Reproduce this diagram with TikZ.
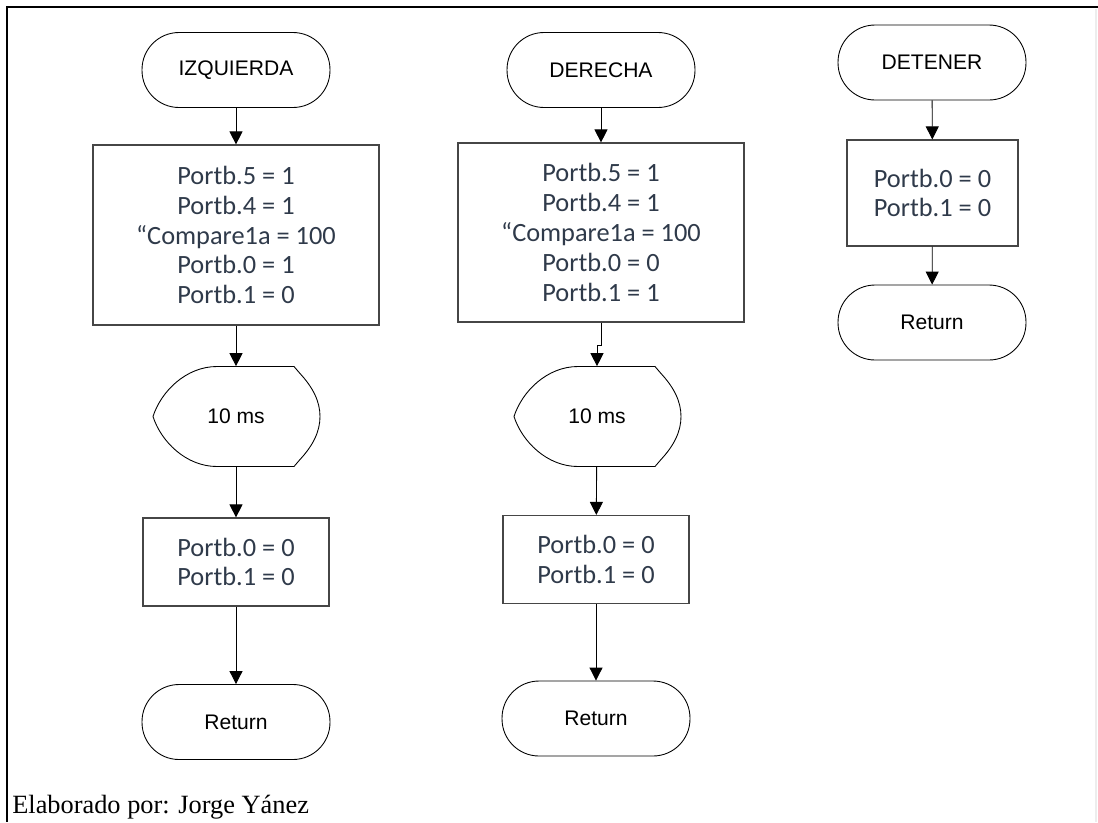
\documentclass[tikz,border=0pt]{standalone}
\usepackage{fontspec}
\setmainfont{Liberation Serif}
\newfontfamily\calibrifont{Carlito}
\newfontfamily\arialfont{Liberation Sans}
\usetikzlibrary{arrows.meta, positioning, calc}
\usepackage{xcolor}
\definecolor{boxtext}{RGB}{47,58,74}
\definecolor{boxline}{RGB}{70,70,70}

\begin{document}
\begin{tikzpicture}[x=0.02cm, y=-0.02cm,
  term/.style={draw, rounded corners=0.74cm, minimum width=3.76cm,
    minimum height=1.5cm, align=center, font=\arialfont\fontsize{12}{14}\selectfont,
    inner sep=0pt, line width=0.5pt},
  box/.style={draw=boxline, minimum width=3.72cm, minimum height=1.76cm, align=center,
    font=\calibrifont\fontsize{15}{17}\selectfont, text=boxtext, inner sep=0pt,
    line width=0.7pt},
  delay/.style={minimum width=3.3cm, minimum height=2cm, inner sep=0pt,
    font=\arialfont\fontsize{12}{14}\selectfont},
  arr/.style={-{Triangle[length=2.6mm, width=2.6mm]}, line width=0.5pt}]
\useasboundingbox (0,0) rectangle (1098,822);
% frame
\draw[line width=1.6pt] (1098,7) -- (7,7) -- (7,822);
\draw[black!7, line width=0.6pt] (1096,9) -- (1096,822);

% IZQUIERDA
\node[term] (t1) at (236,70) {IZQUIERDA};
\node[box, minimum width=5.72cm, minimum height=3.6cm] (b1) at (236,235)
  {Portb.5 = 1\\Portb.4 = 1\\“Compare1a = 100\\Portb.0 = 1\\Portb.1 = 0};
\node[delay] (d1) at (236,416.5) {10 ms};
\node[box] (c1) at (236,562) {Portb.0 = 0\\Portb.1 = 0};
\node[term] (r1) at (236,722) {Return};

% DERECHA
\node[term] (t2) at (601,70) {DERECHA};
\node[box, minimum width=5.72cm, minimum height=3.58cm] (b2) at (601,232.5)
  {Portb.5 = 1\\Portb.4 = 1\\“Compare1a = 100\\Portb.0 = 0\\Portb.1 = 1};
\node[delay] (d2) at (597,416.5) {10 ms};
\node[box] (c2) at (596,559.5) {Portb.0 = 0\\Portb.1 = 0};
\node[term] (r2) at (596,718.5) {Return};

% DETENER
\node[term] (t3) at (932,62.5) {DETENER};
\node[box, minimum width=3.42cm, minimum height=2.12cm] (b3) at (932.5,193)
  {Portb.0 = 0\\Portb.1 = 0};
\node[term] (r3) at (932,322.5) {Return};

% delay outlines
\foreach \d in {d1,d2}
  \draw[line width=0.5pt, shift={(\d.center)}]
    (-19,-50) -- (58,-50) -- (64,-43) .. controls (77,-29) and (84,-15) .. (84,0)
    .. controls (84,15) and (77,29) .. (64,43) -- (58,50) -- (-19,50)
    .. controls (-50,50) and (-75,25) .. (-83,0)
    .. controls (-75,-25) and (-50,-50) .. cycle;

% connectors
\draw[arr] (t1) -- (b1);
\draw[arr] (b1) -- (d1);
\draw[arr] (d1) -- (c1);
\draw[arr] (c1) -- (r1);
\draw[arr] (t2) -- (b2);
\draw[arr] (b2.south) -- ++(0,23) -| (d2.north);
\draw[arr] (d2) -- (c2);
\draw[arr] (c2) -- (r2);
\draw[arr] (t3) -- (b3);
\draw[arr] (b3) -- (r3);

\node[anchor=base west, inner sep=0pt, font=\fontsize{15}{17}\selectfont] (foot) at (12,813)
  {Elaborado por: Jorge Yánez};
\end{tikzpicture}
\end{document}
